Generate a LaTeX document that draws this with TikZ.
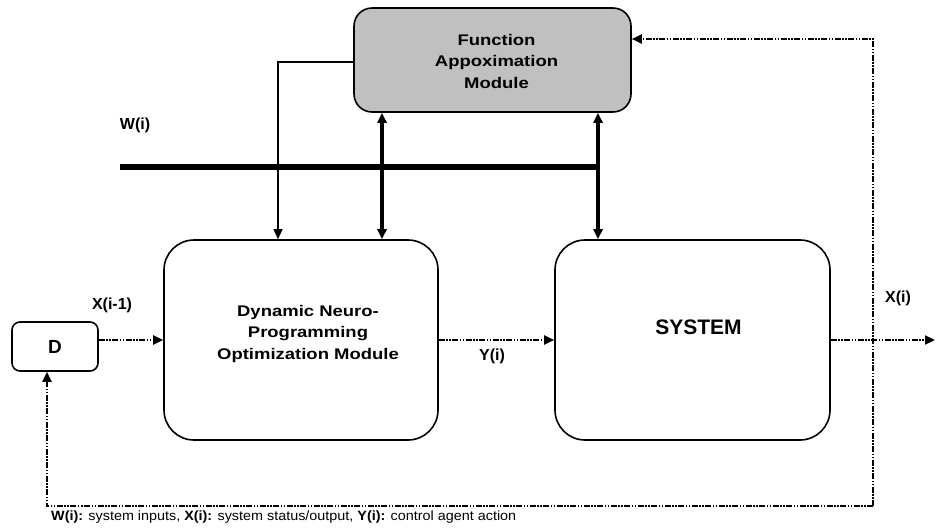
\documentclass[tikz,border=0pt]{standalone}
\usepackage{fontspec}
\setmainfont{Liberation Sans}
\newfontfamily\boxfont[FakeStretch=1.2]{Liberation Sans}
\newfontfamily\capfont[FakeStretch=1.065]{Liberation Sans}
\usetikzlibrary{arrows.meta}
\begin{document}
\begin{tikzpicture}[x=1pt,y=-1pt,
  >={Triangle[length=10pt,width=9pt]},
  blk/.style={draw=black,line width=1.6pt,inner sep=0pt,anchor=center},
  boxtext/.style={font=\boxfont\bfseries\fontsize{15.4}{21.5}\selectfont,align=center},
  lbl/.style={font=\bfseries\fontsize{16}{18}\selectfont,inner sep=0pt},
  dd/.style={line width=2pt,dash pattern=on 6pt off 1.5pt on 1.5pt off 1.5pt on 1.5pt off 1.5pt},
  thinln/.style={line width=1.5pt},
  thickln/.style={line width=4.5pt},
  busln/.style={line width=6pt}
]
\useasboundingbox (0,0) rectangle (936,528);

% blocks
\node[blk,fill={rgb,255:red,192;green,192;blue,192},rounded corners=18pt,
      minimum width=277pt,minimum height=104pt,
      label={[boxtext,xshift=4pt,yshift=-1pt]center:{Function\\Appoximation\\Module}}]
      (fa) at (492.5,60) {};
\node[blk,rounded corners=30pt,minimum width=274pt,minimum height=200pt,
      label={[boxtext,xshift=7pt,yshift=6pt]center:{Dynamic Neuro-\\Programming\\Optimization Module}}]
      (dnp) at (301,340) {};
\node[blk,rounded corners=30pt,minimum width=275pt,minimum height=200pt,
      label={[font=\bfseries\fontsize{21}{24}\selectfont,xshift=6pt,yshift=12.5pt]center:SYSTEM}]
      (sys) at (692.5,340) {};
\node[blk,rounded corners=8pt,minimum width=86pt,minimum height=49pt,
      font=\bfseries\fontsize{19}{21}\selectfont] (d) at (55,346.5) {D};

% labels
\node[lbl] (wlab) at (135,125) {W(i)};
\node[lbl] (xm1) at (112,305) {X(i-1)};
\node[lbl] (ylab) at (492,356) {Y(i)};
\node[lbl] (xlab) at (898,298) {X(i)};

% coordinates
\coordinate (wl) at (120,167);
\coordinate (wr) at (598,167);
\coordinate (a2) at (382,167);
\coordinate (tl) at (278,62);
\coordinate (out) at (935,340);
\coordinate (tr) at (873,39);
\coordinate (br) at (873,506);
\coordinate (bl) at (47,506);

% bus
\draw[busln] (wl) -- (wr);
% thin connector from FA to DNP
\draw[thinln,->] (fa.west |- tl) -- (tl) -- (dnp.north -| tl);
% thick double arrows
\draw[thickln,<->] (fa.south -| a2) -- (dnp.north -| a2);
\draw[thickln,<->] (fa.south -| wr) -- (sys.north -| wr);

% signal flow (dotted)
\draw[dd,->] (d.east |- dnp.west) -- (dnp.west);
\draw[dd,->] (dnp.east) -- (sys.west);
\draw[dd,->] (sys.east) -- (out);
\draw[dd,->] (br) -- (tr) -- (fa.east |- tr);
\draw[dd,->] (br) -- (bl) -- (bl |- d.south);

% caption
\node[anchor=west,inner sep=0pt,font=\capfont\fontsize{13.5}{15}\selectfont] (cap) at (51,517)
  {\textbf{W(i):} system inputs, \textbf{X(i):} system status/output, \textbf{Y(i):} control agent action};
\end{tikzpicture}
\end{document}
